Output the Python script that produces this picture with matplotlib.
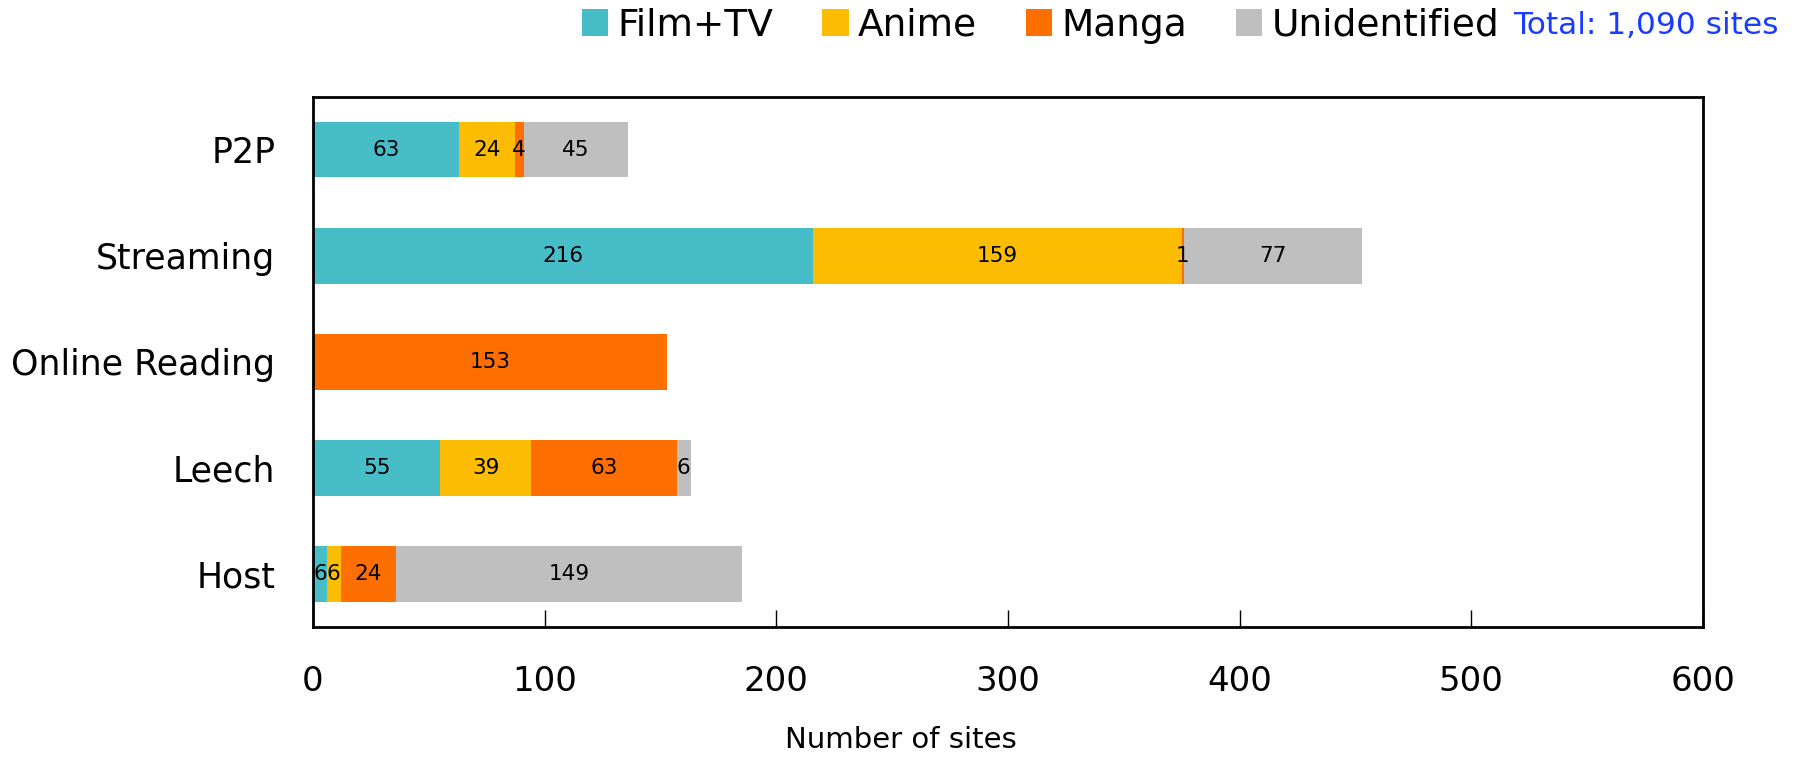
import matplotlib.pyplot as plt
import numpy as np
from matplotlib.patches import Patch

# Kategóriák fentről lefelé
categories = ["P2P", "Streaming", "Online Reading", "Leech", "Host"]
film_tv = [63, 216, 0, 55, 6]
anime = [24, 159, 0, 39, 6]
manga = [4, 1, 153, 63, 24]
unidentified = [45, 77, 0, 6, 149]
series_names = ["Film+TV", "Anime", "Manga", "Unidentified"]
x_ticks = [0, 100, 200, 300, 400, 500, 600]
total_text = "Total: 1,090 sites"

colors = ["#47BDC7", "#FBBC02", "#FF6F00", "#BFBFBF"]
series = [film_tv, anime, manga, unidentified]

plt.rcParams['font.family'] = ['DejaVu Sans']
fig = plt.figure(figsize=(18.04, 7.57), dpi=100)
ax = fig.add_axes([0.1735, 0.1717, 0.944 - 0.1735, 0.872 - 0.1717])

y = np.arange(len(categories))
left = np.zeros(len(categories))
for vals, col, name in zip(series, colors, series_names):
    vals = np.array(vals, dtype=float)
    ax.barh(y, vals, left=left, height=0.52, color=col, label=name)
    # értékek kiírása a szegmensek közepére
    for yi, (l, v) in enumerate(zip(left, vals)):
        if v > 0:
            ax.text(l + v / 2, yi, f"{int(v)}", ha='center', va='center',
                    fontsize=15.5, color='black')
    left += vals

ax.set_xlim(0, 600)
ax.set_ylim(len(categories) - 0.5, -0.5)
ax.set_yticks(y)
ax.set_yticklabels(categories, fontsize=25)
ax.set_xticks(x_ticks)
ax.set_xticklabels([str(t) for t in x_ticks], fontsize=24.5)
ax.tick_params(axis='x', direction='in', length=12, width=1, pad=27)
ax.tick_params(axis='y', length=0, pad=27)

for s in ax.spines.values():
    s.set_linewidth(2)
    s.set_color('black')

# tengelyfelirat a teljes ábra közepére
fig.text(0.4994, 0.022, "Number of sites", fontsize=21, ha='center', va='center')

handles = [Patch(facecolor=c, edgecolor='none', label=n) for c, n in zip(colors, series_names)]
fig.legend(handles=handles, loc='center left', bbox_to_anchor=(0.3227, 0.966),
           ncol=4, frameon=False, fontsize=27, handlelength=0.7, handleheight=0.7,
           handletextpad=0.25, columnspacing=1.3, borderpad=0, borderaxespad=0)
fig.text(0.8387, 0.966, total_text, color='#1A3CFF', fontsize=22.5, ha='left', va='center')

plt.savefig("out.png", dpi=100)
plt.close()
